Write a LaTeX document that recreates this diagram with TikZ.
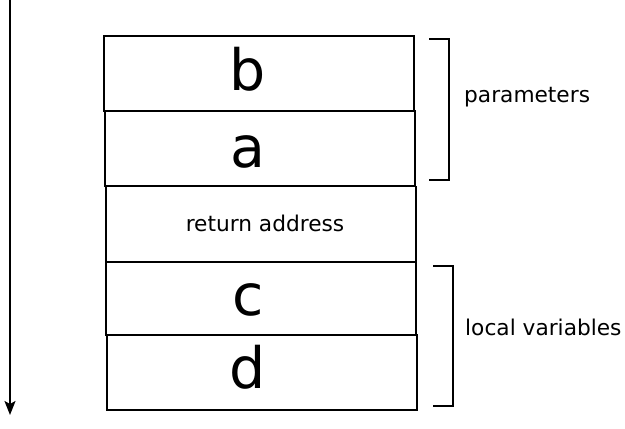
\documentclass[tikz,border=0pt]{standalone}
\usepackage{fontspec}
\setmainfont{DejaVu Sans}
\usetikzlibrary{arrows,arrows.meta}
\tikzset{>={Stealth[length=14pt,width=11pt,inset=3pt]}}
\tikzset{
  cell/.style={draw,line width=1.6,minimum width=310,minimum height=75,inner sep=0},
  bigvar/.style={font=\fontsize{57}{60}\selectfont,anchor=base,inner sep=0},
  small/.style={font=\fontsize{21.7}{26}\selectfont,inner sep=0}
}

\begin{document}
\begin{tikzpicture}[x=1pt,y=1pt]
  \useasboundingbox (0,0) rectangle (625,-429);

  % Stack direction
  \coordinate (top) at (10,0);
  \coordinate (bottom) at (10,-415);
  \draw[line width=1.6,->] (top) -- (bottom);

  % Stack frame
  \node[cell] (bBox) at (259,-73.5) {};
  \node[cell] (aBox) at (260,-148.5) {};
  \node[cell] (retBox) at (261,-224) {};
  \node[cell,minimum height=73] (cBox) at (261,-298.5) {};
  \node[cell] (dBox) at (262,-372.5) {};

  \node[bigvar] (b) at (248,-90) {b};
  \node[bigvar] (a) at (248,-167) {a};
  \node[small,anchor=base] (ret) at (265,-231) {return address};
  \node[bigvar] (c) at (248,-315) {c};
  \node[bigvar] (d) at (248,-388) {d};

  % Brackets
  \draw[line width=1.6] (429,-39) -- (449,-39) -- (449,-180) -- (429,-180);
  \node[small,anchor=base west] (params) at (464,-102) {parameters};
  \draw[line width=1.6] (433,-266) -- (453,-266) -- (453,-406) -- (433,-406);
  \node[small,anchor=base west] (locals) at (465,-335) {local variables};
\end{tikzpicture}
\end{document}
